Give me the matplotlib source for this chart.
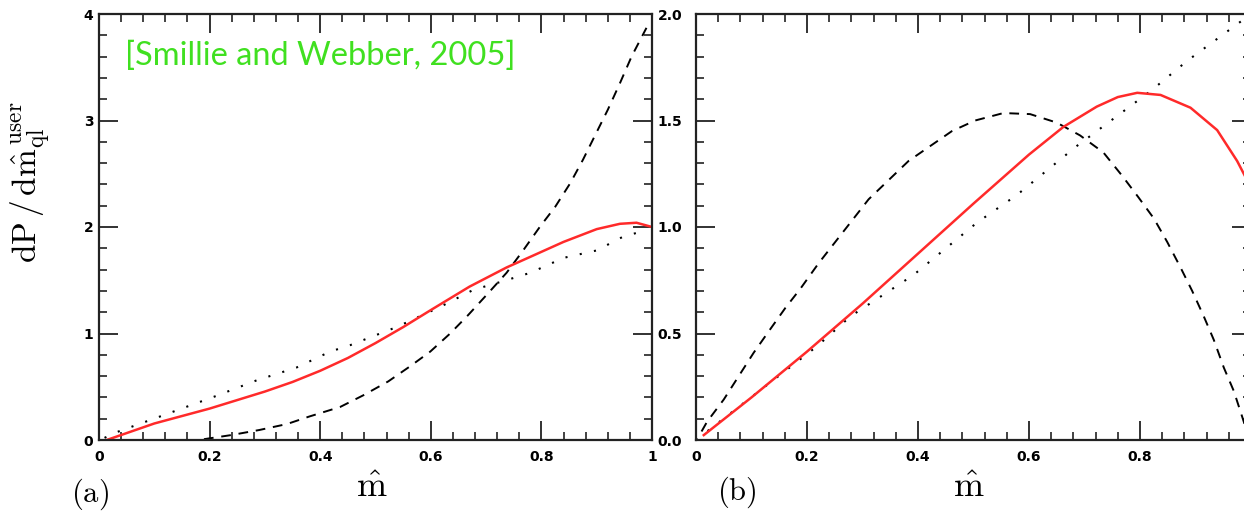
import matplotlib
matplotlib.use("Agg")
import matplotlib.pyplot as plt
from matplotlib.ticker import MultipleLocator, FixedLocator, FixedFormatter

plt.rcParams['mathtext.fontset'] = 'cm'

# ---------------- data: panel (a) ----------------
a_red_x = [0.014, 0.10, 0.20, 0.30, 0.35, 0.40, 0.45, 0.50, 0.55, 0.60, 0.67,
           0.737, 0.78, 0.84, 0.90, 0.942, 0.972, 1.0]
a_red_y = [0.0, 0.155, 0.295, 0.455, 0.545, 0.65, 0.77, 0.91, 1.06, 1.22, 1.44,
           1.62, 1.72, 1.86, 1.98, 2.03, 2.04, 2.0]

a_dot_x = [0.01, 0.03, 0.11, 0.21, 0.285, 0.357, 0.418, 0.454, 0.538, 0.617, 0.677, 0.73,
           0.78, 0.84, 0.90, 0.948, 0.99]
a_dot_y = [0.02, 0.07, 0.22, 0.41, 0.56, 0.68, 0.83, 0.89, 1.06, 1.25, 1.41, 1.49,
           1.57, 1.71, 1.78, 1.91, 1.97]

a_dash_x = [0.0, 0.18, 0.24, 0.29, 0.34, 0.38, 0.436, 0.478, 0.523, 0.562, 0.599, 0.635,
            0.667, 0.704, 0.737, 0.767, 0.797, 0.825, 0.852, 0.875, 0.897, 0.92, 0.942,
            0.963, 0.99]
a_dash_y = [0.0, 0.0, 0.047, 0.094, 0.15, 0.22, 0.31, 0.42, 0.55, 0.69, 0.83, 1.0,
            1.17, 1.38, 1.57, 1.78, 2.0, 2.19, 2.41, 2.63, 2.86, 3.1, 3.35,
            3.6, 3.87]

# ---------------- data: panel (b) ----------------
b_red_x = [0.014, 0.10, 0.20, 0.30, 0.40, 0.50, 0.60, 0.662, 0.722, 0.76, 0.795,
           0.837, 0.891, 0.939, 0.975, 0.995]
b_red_y = [0.023, 0.20, 0.415, 0.64, 0.875, 1.11, 1.34, 1.47, 1.565, 1.61, 1.63,
           1.62, 1.56, 1.455, 1.31, 1.21]

b_dot_x = [0.0, 0.218, 0.278, 0.392, 0.506, 0.578, 0.686, 0.82, 0.885, 1.0]
b_dot_y = [0.0, 0.44, 0.58, 0.775, 1.02, 1.15, 1.38, 1.64, 1.78, 2.0]

b_dash_x = [0.01, 0.02, 0.05, 0.077, 0.104, 0.131, 0.161, 0.188, 0.221, 0.248, 0.278,
            0.311, 0.347, 0.383, 0.422, 0.461, 0.503, 0.554, 0.602, 0.65, 0.692, 0.734,
            0.768, 0.797, 0.825, 0.849, 0.873, 0.894, 0.915, 0.933, 0.951, 0.969,
            0.984, 0.995]
b_dash_y = [0.04, 0.086, 0.19, 0.30, 0.41, 0.51, 0.62, 0.71, 0.83, 0.92, 1.02,
            1.13, 1.22, 1.31, 1.38, 1.45, 1.50, 1.535, 1.53, 1.49, 1.43, 1.35,
            1.24, 1.14, 1.04, 0.93, 0.81, 0.70, 0.58, 0.47, 0.34, 0.23,
            0.11, 0.02]

a_xticks = [0, 0.2, 0.4, 0.6, 0.8, 1]
a_xticklabels = ["0", "0.2", "0.4", "0.6", "0.8", "1"]
a_yticks = [0, 1, 2, 3, 4]
a_yticklabels = ["0", "1", "2", "3", "4"]
b_xticks = [0, 0.2, 0.4, 0.6, 0.8]
b_xticklabels = ["0", "0.2", "0.4", "0.6", "0.8"]
b_yticks = [0.0, 0.5, 1.0, 1.5, 2.0]
b_yticklabels = ["0.0", "0.5", "1.0", "1.5", "2.0"]

W, H = 1244, 512
fig = plt.figure(figsize=(W / 100, H / 100), dpi=100)

axA = fig.add_axes([99 / W, 1 - 440 / H, (652 - 99) / W, (440 - 14) / H])
axB = fig.add_axes([696 / W, 1 - 440 / H, (1251 - 696) / W, (440 - 14) / H])

RED = '#ff2a2a'
dash_style = (0, (5, 4))
dot_style = (0, (1, 6))

axA.plot(a_dash_x, a_dash_y, color='black', lw=1.4, ls=dash_style)
axA.plot(a_dot_x, a_dot_y, color='black', lw=1.5, ls=dot_style)
axA.plot(a_red_x, a_red_y, color=RED, lw=1.8)

axB.plot(b_dash_x, b_dash_y, color='black', lw=1.4, ls=dash_style)
axB.plot(b_dot_x, b_dot_y, color='black', lw=1.5, ls=dot_style)
axB.plot(b_red_x, b_red_y, color=RED, lw=1.8)

tick_font = dict(family='DejaVu Sans', weight='bold', size=10)

for ax, xt, xl, yt, yl, ylim, ymin, ypad in [
        (axA, a_xticks, a_xticklabels, a_yticks, a_yticklabels, (0, 4), 0.2, 4),
        (axB, b_xticks, b_xticklabels, b_yticks, b_yticklabels, (0, 2), 0.1, 10)]:
    ax.set_xlim(0, 1)
    ax.set_ylim(*ylim)
    ax.xaxis.set_major_locator(FixedLocator(xt))
    ax.xaxis.set_major_formatter(FixedFormatter(xl))
    ax.yaxis.set_major_locator(FixedLocator(yt))
    ax.yaxis.set_major_formatter(FixedFormatter(yl))
    ax.xaxis.set_minor_locator(MultipleLocator(0.04))
    ax.yaxis.set_minor_locator(MultipleLocator(ymin))
    ax.tick_params(which='both', direction='in', top=True, right=True, color='#222222')
    ax.tick_params(which='major', length=14, width=1.3)
    ax.tick_params(which='minor', length=6, width=1.2)
    ax.tick_params(axis='x', which='major', pad=7)
    ax.tick_params(axis='y', which='major', pad=ypad)
    for lab in ax.get_xticklabels() + ax.get_yticklabels():
        lab.set_fontfamily(tick_font['family'])
        lab.set_fontweight(tick_font['weight'])
        lab.set_fontsize(tick_font['size'])
    for sp in ax.spines.values():
        sp.set_linewidth(1.6)
        sp.set_color('#222222')

axA.text(26 / 553, 1 - 42 / 426, "[Smillie and Webber, 2005]", transform=axA.transAxes,
         color='#40e020', fontsize=23.5, family='Lato', ha='left', va='center')

fig.text(31 / W, 1 - 182 / H, r'$\mathrm{dP\,/\,d\hat{m}_{ql}^{\,user}}$',
         rotation=90, ha='center', va='center', fontsize=24)

fig.text(372 / W, 1 - 487 / H, r'$\hat{\mathrm{m}}$', ha='center', va='center', fontsize=26)
fig.text(969 / W, 1 - 487 / H, r'$\hat{\mathrm{m}}$', ha='center', va='center', fontsize=26)
fig.text(90 / W, 1 - 494 / H, r'$\mathrm{(a)}$', ha='center', va='center', fontsize=22)
fig.text(737 / W, 1 - 492 / H, r'$\mathrm{(b)}$', ha='center', va='center', fontsize=22)

fig.savefig('out.png', dpi=100)
